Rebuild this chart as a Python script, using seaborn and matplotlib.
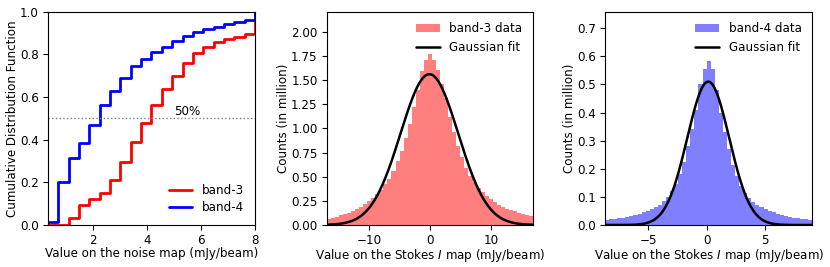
import numpy as np
import pandas as pd
import matplotlib
matplotlib.use("Agg")
import matplotlib.pyplot as plt
import seaborn as sns

# ---------------- data ----------------
# Left panel: cumulative distribution of noise-map values (20 bins, 0.32..8 mJy/beam)
cdf_bin_start = 0.32
cdf_bin_stop = 8.0
cdf_nbins = 20
cdf_band3 = [0.0, 0.0, 0.031, 0.094, 0.122, 0.152, 0.211, 0.297, 0.3875, 0.48,
             0.5625, 0.6375, 0.698, 0.761, 0.805, 0.836, 0.856, 0.872, 0.883, 0.894]
cdf_band4 = [0.015, 0.203, 0.3125, 0.383, 0.469, 0.5625, 0.63, 0.69, 0.745, 0.78,
             0.81, 0.836, 0.8625, 0.886, 0.905, 0.919, 0.93, 0.942, 0.952, 0.961]

# Middle panel: band-3 Stokes I histogram (51 bins over -17..17), counts in million
b3_range = (-17.0, 17.0)
b3_counts = [0.065, 0.075, 0.087, 0.10, 0.113, 0.128, 0.145, 0.165, 0.19, 0.215,
             0.245, 0.28, 0.32, 0.365, 0.42, 0.48, 0.56, 0.66, 0.77, 0.90,
             1.05, 1.22, 1.40, 1.59, 1.71, 1.77, 1.71, 1.60, 1.46, 1.31,
             1.12, 0.96, 0.82, 0.70, 0.59, 0.51, 0.44, 0.385, 0.34, 0.30,
             0.265, 0.235, 0.21, 0.19, 0.17, 0.155, 0.14, 0.125, 0.112, 0.10, 0.09]
b3_fit = dict(amp=1.56, mu=-0.1, sigma=4.75)

# Right panel: band-4 Stokes I histogram (51 bins over -8.71..9.06), counts in million
b4_range = (-8.71, 9.06)
b4_counts = [0.018, 0.020, 0.022, 0.024, 0.026, 0.029, 0.032, 0.036, 0.040, 0.045,
             0.050, 0.056, 0.063, 0.072, 0.084, 0.10, 0.12, 0.145, 0.18, 0.225,
             0.28, 0.34, 0.41, 0.50, 0.554, 0.585, 0.554, 0.48, 0.40, 0.33,
             0.27, 0.215, 0.175, 0.14, 0.115, 0.097, 0.083, 0.072, 0.063, 0.056,
             0.050, 0.045, 0.040, 0.036, 0.032, 0.029, 0.026, 0.024, 0.022, 0.020, 0.019]
b4_fit = dict(amp=0.51, mu=0.14, sigma=1.8)

# ---------------- style ----------------
sns.set_theme(style="ticks")
FS = 8.6
plt.rcParams.update({
    "font.family": ["DejaVu Sans"],
    "font.size": FS,
    "axes.labelsize": FS,
    "xtick.labelsize": FS,
    "ytick.labelsize": FS,
    "legend.fontsize": FS,
    "axes.edgecolor": "black",
    "axes.labelcolor": "black",
    "xtick.color": "black",
    "ytick.color": "black",
    "text.color": "black",
    "axes.linewidth": 0.8,
    "xtick.major.size": 3.5,
    "ytick.major.size": 3.5,
    "xtick.major.width": 0.8,
    "ytick.major.width": 0.8,
    "xtick.major.pad": 3.0,
    "ytick.major.pad": 3.0,
    "axes.labelpad": 0.5,
    "mathtext.fontset": "dejavusans",
})
XPAD = 0.0

fig = plt.figure(figsize=(8.30, 2.67), dpi=100)
ax1 = fig.add_axes([0.0578, 0.1573, 0.2494, 0.7990])
ax2 = fig.add_axes([0.3936, 0.1573, 0.2489, 0.7990])
ax3 = fig.add_axes([0.7289, 0.1573, 0.2498, 0.7990])

# ---------------- left: CDF steps ----------------
edges = np.linspace(cdf_bin_start, cdf_bin_stop, cdf_nbins + 1)
for vals, col, lab in [(cdf_band3, "red", "band-3"), (cdf_band4, "blue", "band-4")]:
    df = pd.DataFrame({"x": list(edges[:-1]) + [edges[-1]],
                       "y": list(vals) + [1.0]})
    sns.lineplot(data=df, x="x", y="y", ax=ax1, color=col, lw=2.0,
                 drawstyle="steps-post", label=lab, sort=False, estimator=None)
ax1.axhline(0.5, color="gray", ls=":", lw=1.0)
ax1.text(5.5, 0.503, "50%", ha="center", va="bottom", fontsize=FS)
ax1.set_xlim(cdf_bin_start, cdf_bin_stop)
ax1.set_ylim(0, 1.0)
ax1.set_xticks([2, 4, 6, 8])
ax1.set_yticks([0.0, 0.2, 0.4, 0.6, 0.8, 1.0])
ax1.set_xlabel("Value on the noise map (mJy/beam)", labelpad=XPAD)
ax1.set_ylabel("Cumulative Distribution Function")
ax1.legend(loc="lower right", frameon=False, handlelength=2.0, labelspacing=0.35)


def hist_panel(ax, counts, rng, fit, color, label):
    n = len(counts)
    e = np.linspace(rng[0], rng[1], n + 1)
    c = 0.5 * (e[:-1] + e[1:])
    hdf = pd.DataFrame({"x": c, "w": counts})
    sns.histplot(data=hdf, x="x", weights="w", bins=n, binrange=rng, ax=ax,
                 color=color, alpha=0.5, linewidth=0, label=label)
    xg = np.linspace(rng[0], rng[1], 400)
    yg = fit["amp"] * np.exp(-0.5 * ((xg - fit["mu"]) / fit["sigma"]) ** 2)
    sns.lineplot(x=xg, y=yg, ax=ax, color="black", lw=1.8, label="Gaussian fit")
    ax.set_xlim(*rng)
    ax.set_xlabel("Value on the Stokes $I$ map (mJy/beam)", labelpad=XPAD)
    ax.set_ylabel("Counts (in million)")
    h, l = ax.get_legend_handles_labels()
    order = [l.index(label), l.index("Gaussian fit")]
    ax.legend([h[i] for i in order], [l[i] for i in order],
              loc="upper right", frameon=False, handlelength=2.0)


hist_panel(ax2, b3_counts, b3_range, b3_fit, "red", "band-3 data")
ax2.set_ylim(0, 2.207)
ax2.set_yticks(np.arange(0, 2.01, 0.25))
ax2.set_yticklabels([f"{v:.2f}" for v in np.arange(0, 2.01, 0.25)])
ax2.set_xticks([-10, 0, 10])

hist_panel(ax3, b4_counts, b4_range, b4_fit, "blue", "band-4 data")
ax3.set_ylim(0, 0.759)
ax3.set_yticks(np.arange(0, 0.71, 0.1))
ax3.set_yticklabels([f"{v:.1f}" for v in np.arange(0, 0.71, 0.1)])
ax3.set_xticks([-5, 0, 5])

fig.savefig("out.png", dpi=100)
